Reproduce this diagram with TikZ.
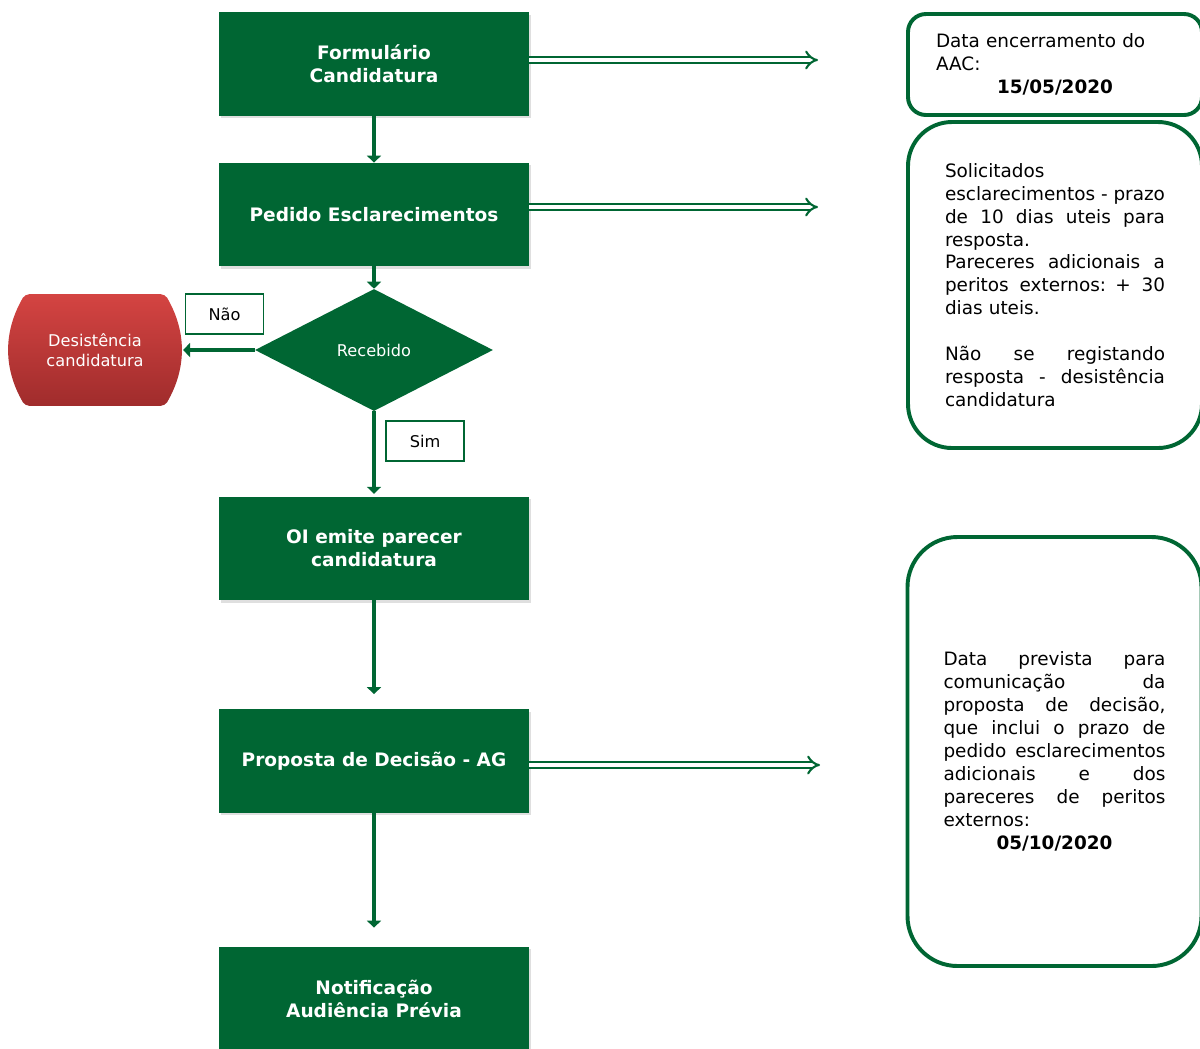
\documentclass[tikz,border=0pt]{standalone}
\usepackage{fontspec}
\setmainfont{DejaVu Sans}
\usetikzlibrary{shapes, arrows, arrows.meta, positioning, shadows, calc, backgrounds}
\definecolor{verde}{RGB}{0,102,51}
\definecolor{vermelhoclaro}{RGB}{212,68,66}
\definecolor{vermelhoescuro}{RGB}{160,44,44}
\newcommand{\linha}[1]{\makebox[\linewidth][s]{\spaceskip=0.3em plus 1fill\relax #1}}

\begin{document}
\begin{tikzpicture}[font=\fontsize{13.1pt}{16.3pt}\selectfont,
	etapa/.style={fill=verde, text=white, align=center, font=\fontsize{13.2pt}{16.3pt}\selectfont\bfseries, minimum width=7.75cm, minimum height=2.58cm, drop shadow={opacity=0.25, shadow xshift=0.06cm, shadow yshift=-0.06cm}},
	nota/.style={draw=verde, line width=2.8pt, fill=white, align=left},
	rotulo/.style={draw=verde, line width=0.8pt, fill=white, font=\fontsize{11.5pt}{14pt}\selectfont, minimum width=1.95cm, minimum height=1cm},
	seta/.style={draw=verde, line width=3.5pt, -{Triangle[width=10pt, length=5pt]}},
	seta dupla/.style={draw=verde, line width=1.5pt, double=white, double distance=3pt, -{Implies}}]
		\useasboundingbox (0, 0) rectangle (30, -26.2);
		\node[etapa] (formulario) at (9.35, -1.6) {Formulário\\Candidatura};
		\node[etapa] (pedido) at (9.35, -5.3625) {Pedido Esclarecimentos};
		\node[diamond, fill=verde, text=white, inner sep=0pt, minimum width=5.95cm, minimum height=3.05cm, font=\fontsize{11.5pt}{14pt}\selectfont] (recebido) at (9.35, -8.75) {Recebido};
		\node[text=white, align=center, minimum width=4.25cm, minimum height=2.775cm, font=\fontsize{11.5pt}{14pt}\selectfont] (desistencia) at (2.375, -8.75) {Desistência\\candidatura};
		\begin{pgfonlayer}{background}
			\shade[top color=vermelhoclaro, bottom color=vermelhoescuro, rounded corners=3pt] ($(desistencia.north west)+(0.38, 0)$) to[bend right=30] ($(desistencia.south west)+(0.38, 0)$) -- ($(desistencia.south east)+(-0.38, 0)$) to[bend right=30] ($(desistencia.north east)+(-0.38, 0)$) -- cycle;
		\end{pgfonlayer}
		\node[rotulo] (nao) at (5.6125, -7.85) {Não};
		\node[rotulo] (sim) at (10.625, -11.025) {Sim};
		\node[etapa] (parecer) at (9.35, -13.7125) {OI emite parecer\\candidatura};
		\node[etapa] (proposta) at (9.35, -19.025) {Proposta de Decisão - AG};
		\node[etapa] (notificacao) at (9.35, -24.9625) {Notificação\\Audiência Prévia};
		% notas da direita
		\node[nota, rounded corners=0.45cm, minimum width=7.35cm, minimum height=2.525cm, text width=5.95cm] (encerramento) at (26.375, -1.6125) {Data encerramento do\\AAC:\\\makebox[\linewidth][c]{\bfseries 15/05/2020}};
		\node[nota, rounded corners=1.1cm, minimum width=7.35cm, minimum height=8.15cm, text width=5.5cm] (esclarecimentos) at (26.375, -7.125) {Solicitados\\\linha{esclarecimentos - prazo}\\\linha{de 10 dias uteis para}\\resposta.\\\linha{Pareceres adicionais a}\\\linha{peritos externos: + 30}\\dias uteis.\\[16.3pt]\linha{Não se registando}\\\linha{resposta - desistência}\\candidatura};
		\node[nota, rounded corners=1.25cm, minimum width=7.35cm, minimum height=10.725cm, text width=5.55cm] (previsao) at (26.3625, -18.7875) {\linha{Data prevista para}\\\linha{comunicação da}\\\linha{proposta de decisão,}\\\linha{que inclui o prazo de}\\\linha{pedido esclarecimentos}\\\linha{adicionais e dos}\\\linha{pareceres de peritos}\\externos:\\\makebox[\linewidth][c]{\bfseries 05/10/2020}};
		\coordinate (fim1) at (20.45, -1.5);
		\coordinate (fim2) at (20.45, -5.175);
		\coordinate (fim3) at (20.5, -19.125);
		% ligacoes
		\path [seta] (formulario) -- (pedido);
		\path [seta] (pedido) -- (recebido);
		\path [seta, shorten >=2pt] (recebido) -- (desistencia);
		\path [seta, shorten >=2pt] (recebido) -- (parecer);
		\path [seta, shorten >=0.375cm] (parecer) -- (proposta);
		\path [seta, shorten >=0.475cm] (proposta) -- (notificacao);
		\path [seta dupla] (formulario.east |- fim1) -- (fim1);
		\path [seta dupla] (pedido.east |- fim2) -- (fim2);
		\path [seta dupla] (proposta.east |- fim3) -- (fim3);
	\end{tikzpicture}
\end{document}
